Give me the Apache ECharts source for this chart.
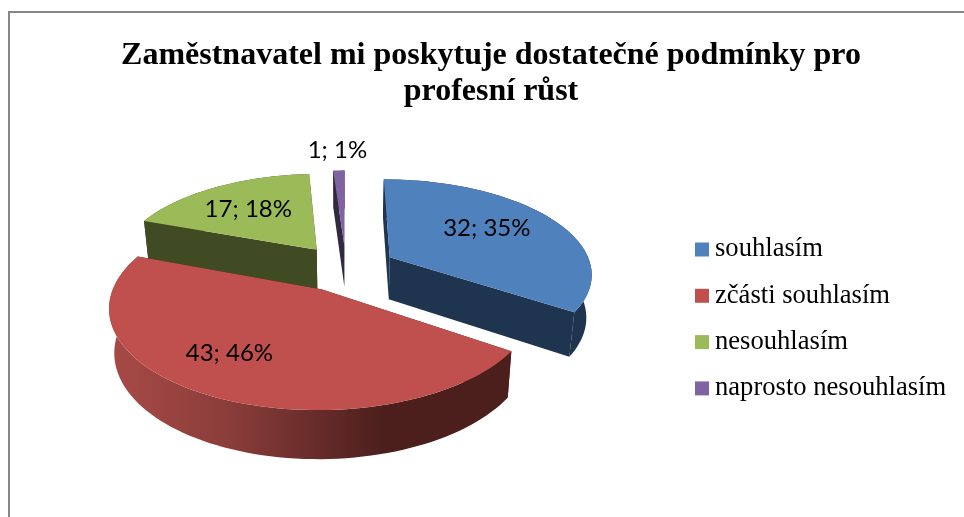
<!DOCTYPE html>
<html>
<head>
<meta charset="utf-8">
<style>html,body{margin:0;padding:0;background:#fff}#chart{width:964px;height:517px}</style>
<script src="https://cdn.jsdelivr.net/npm/echarts@6/dist/echarts.min.js"></script>
</head>
<body>
<div id="chart"></div>
<script>
// ---- data ----
const categories = ['souhlasím', 'zčásti souhlasím', 'nesouhlasím', 'naprosto nesouhlasím'];
const counts = [32, 43, 17, 1];
const percents = [35, 46, 18, 1];
const titleText = 'Zaměstnavatel mi poskytuje dostatečné podmínky pro\nprofesní růst';

// ---- styling ----
const topColors = ['#4F81BD', '#C0504D', '#9BBB59', '#8064A2'];
const sideColors = ['#1F344F', null, '#404A23', '#32283F'];
const labelRadius = [0.63, 0.695, 0.634, 1.32];
const labelTurn = [-5, 7, -1, 0];

// ---- 3-D pie projection ----
const view = { cx: 346, cy: 268, rx: 202, ry: 93.5, persp: 0.16, explode: 0.25,
               depth: 42.5, baseX: 0.978, baseY: 1.046 };
const total = counts.reduce((a, b) => a + b, 0);
const rad = d => d * Math.PI / 180;
function project(x, y, base) {
  const s = 1 / (1 + view.persp * y);
  const X = view.rx * x * s, Y = -view.ry * y * s;
  return base
    ? [view.cx + X * view.baseX, view.cy + Y * view.baseY + view.depth]
    : [view.cx + X, view.cy + Y];
}
function sliceAngles(i) {
  const before = counts.slice(0, i).reduce((a, b) => a + b, 0);
  return [before / total * 360, (before + counts[i]) / total * 360];
}
function makeRenderItem(i) {
  return function () {
    const [a0, a1] = sliceAngles(i);
    const mid = rad((a0 + a1) / 2);
    const ox = view.explode * Math.sin(mid), oy = view.explode * Math.cos(mid);
    const pt = (deg, r, base) => project(ox + r * Math.sin(rad(deg)), oy + r * Math.cos(rad(deg)), base);
    const steps = Math.max(2, Math.ceil((a1 - a0) / 2));
    const angles = [];
    for (let k = 0; k <= steps; k++) angles.push(a0 + (a1 - a0) * k / steps);
    const arcTop = angles.map(a => pt(a, 1, false));
    const arcBase = angles.map(a => pt(a, 1, true));
    const apexTop = project(ox, oy, false), apexBase = project(ox, oy, true);
    const order = Math.round((1 - oy) * 100) * 10;
    const sideFill = sideColors[i] || new echarts.graphic.LinearGradient(0, 0, 1, 0, [
      { offset: 0, color: '#A84A47' },
      { offset: 0.3, color: '#8A3D3A' },
      { offset: 0.68, color: '#4C1F1D' },
      { offset: 1, color: '#4C1F1D' }
    ]);
    const flat = sideColors[i] || '#4C1F1D';
    const poly = (points, fill, z2) => ({ type: 'polygon', shape: { points }, z2, silent: true,
      style: { fill } });
    const labelAng = rad((a0 + a1) / 2 + labelTurn[i]);
    const labelPos = project(ox + labelRadius[i] * Math.sin(labelAng), oy + labelRadius[i] * Math.cos(labelAng), false);
    return {
      type: 'group',
      children: [
        poly([apexTop, arcTop[0], arcBase[0], apexBase], flat, order),
        poly([apexTop, arcTop[steps], arcBase[steps], apexBase], flat, order + 1),
        poly(arcTop.concat(arcBase.slice().reverse()), sideFill, order + 2),
        poly([apexTop].concat(arcTop), topColors[i], order + 3),
        { type: 'text', x: labelPos[0], y: labelPos[1], z2: 5000, silent: true,
          style: { text: counts[i] + '; ' + percents[i] + '%', fill: '#000',
                   font: '24px Lato', align: 'center', verticalAlign: 'middle' } }
      ]
    };
  };
}

const chart = echarts.init(document.getElementById('chart'), null, { renderer: 'canvas' });
chart.setOption({
  animation: false,
  backgroundColor: '#fff',
  title: {
    text: titleText, left: 486, top: 33, textAlign: 'center', itemGap: 0,
    textStyle: { fontFamily: '"Liberation Serif"', fontWeight: 'bold', fontSize: 32, lineHeight: 36, color: '#000' }
  },
  legend: {
    orient: 'vertical', left: 690, top: 231, itemWidth: 14, itemHeight: 14, itemGap: 19.3,
    icon: 'rect', selectedMode: false, data: categories,
    textStyle: { fontFamily: '"Liberation Serif"', fontSize: 26.6, color: '#000', padding: [0, 0, 0, 1], lineHeight: 26 }
  },
  xAxis: { show: false }, yAxis: { show: false },
  graphic: [{
    type: 'polyline', silent: true,
    shape: { points: [[9, 517], [9, 12], [964, 12]] },
    style: { stroke: '#868686', lineWidth: 2, fill: null }
  }],
  series: categories.map((name, i) => ({
    type: 'custom', name, coordinateSystem: 'none',
    itemStyle: { color: topColors[i] },
    data: [counts[i]],
    renderItem: makeRenderItem(i)
  }))
});
</script>
</body>
</html>
